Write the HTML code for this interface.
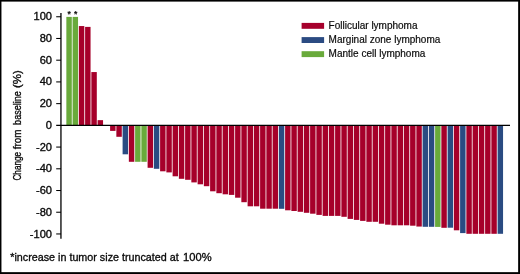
<!DOCTYPE html>
<html><head><meta charset="utf-8"><title>Figure</title>
<style>
html,body{margin:0;padding:0;background:#fff;}
body{width:520px;height:274px;overflow:hidden;position:relative;font-family:"Liberation Sans",Arial,Helvetica,sans-serif;}
svg{position:absolute;left:-6px;top:-6px;display:block;filter:blur(0.35px)}
svg text{font-family:"Liberation Sans",Arial,Helvetica,sans-serif;fill:#0a0a0a;stroke:#0a0a0a;stroke-width:0.32px;}
svg .leg text{stroke-width:0.18px;}
</style></head><body>
<svg width="532" height="286" viewBox="-6 -6 532 286">
<rect x="-6" y="-6" width="532" height="286" fill="#fff"/>
<defs><filter id="bb" x="-2%" y="-2%" width="104%" height="104%"><feGaussianBlur stdDeviation="0.32 0.1"/></filter></defs>
<g id="bars" filter="url(#bb)">
<rect x="66.35" y="16.90" width="5.45" height="108.50" fill="#69aa3b"/>
<rect x="72.60" y="16.90" width="5.45" height="108.50" fill="#69aa3b"/>
<rect x="78.85" y="26.05" width="5.45" height="99.35" fill="#a6002c"/>
<rect x="85.10" y="26.90" width="5.45" height="98.50" fill="#a6002c"/>
<rect x="91.35" y="72.05" width="5.45" height="53.35" fill="#a6002c"/>
<rect x="97.60" y="120.15" width="5.45" height="5.25" fill="#a6002c"/>
<rect x="110.10" y="125.40" width="5.45" height="5.50" fill="#a6002c"/>
<rect x="116.35" y="125.40" width="5.45" height="11.40" fill="#a6002c"/>
<rect x="122.60" y="125.40" width="5.45" height="28.90" fill="#2b4b82"/>
<rect x="128.85" y="125.40" width="5.45" height="36.40" fill="#a6002c"/>
<rect x="135.10" y="125.40" width="5.45" height="36.40" fill="#69aa3b"/>
<rect x="141.35" y="125.40" width="5.45" height="36.40" fill="#69aa3b"/>
<rect x="147.60" y="125.40" width="5.45" height="42.40" fill="#a6002c"/>
<rect x="153.85" y="125.40" width="5.45" height="43.40" fill="#2b4b82"/>
<rect x="160.10" y="125.40" width="5.45" height="45.90" fill="#a6002c"/>
<rect x="166.35" y="125.40" width="5.45" height="47.00" fill="#a6002c"/>
<rect x="172.60" y="125.40" width="5.45" height="50.90" fill="#a6002c"/>
<rect x="178.85" y="125.40" width="5.45" height="53.40" fill="#a6002c"/>
<rect x="185.10" y="125.40" width="5.45" height="54.40" fill="#a6002c"/>
<rect x="191.35" y="125.40" width="5.45" height="57.00" fill="#a6002c"/>
<rect x="197.60" y="125.40" width="5.45" height="58.90" fill="#a6002c"/>
<rect x="203.85" y="125.40" width="5.45" height="60.80" fill="#a6002c"/>
<rect x="210.10" y="125.40" width="5.45" height="65.90" fill="#a6002c"/>
<rect x="216.35" y="125.40" width="5.45" height="67.80" fill="#a6002c"/>
<rect x="222.60" y="125.40" width="5.45" height="68.90" fill="#a6002c"/>
<rect x="228.85" y="125.40" width="5.45" height="69.50" fill="#a6002c"/>
<rect x="235.10" y="125.40" width="5.45" height="72.30" fill="#a6002c"/>
<rect x="241.35" y="125.40" width="5.45" height="76.80" fill="#a6002c"/>
<rect x="247.60" y="125.40" width="5.45" height="80.90" fill="#a6002c"/>
<rect x="253.85" y="125.40" width="5.45" height="80.90" fill="#a6002c"/>
<rect x="260.10" y="125.40" width="5.45" height="83.30" fill="#a6002c"/>
<rect x="266.35" y="125.40" width="5.45" height="83.30" fill="#a6002c"/>
<rect x="272.60" y="125.40" width="5.45" height="83.30" fill="#a6002c"/>
<rect x="278.85" y="125.40" width="5.45" height="83.40" fill="#2b4b82"/>
<rect x="285.10" y="125.40" width="5.45" height="84.90" fill="#a6002c"/>
<rect x="291.35" y="125.40" width="5.45" height="85.60" fill="#a6002c"/>
<rect x="297.60" y="125.40" width="5.45" height="86.40" fill="#a6002c"/>
<rect x="303.85" y="125.40" width="5.45" height="87.40" fill="#a6002c"/>
<rect x="310.10" y="125.40" width="5.45" height="88.30" fill="#a6002c"/>
<rect x="316.35" y="125.40" width="5.45" height="89.50" fill="#a6002c"/>
<rect x="322.60" y="125.40" width="5.45" height="90.50" fill="#a6002c"/>
<rect x="328.85" y="125.40" width="5.45" height="90.50" fill="#a6002c"/>
<rect x="335.10" y="125.40" width="5.45" height="90.50" fill="#a6002c"/>
<rect x="341.35" y="125.40" width="5.45" height="91.40" fill="#a6002c"/>
<rect x="347.60" y="125.40" width="5.45" height="93.50" fill="#a6002c"/>
<rect x="353.85" y="125.40" width="5.45" height="94.50" fill="#a6002c"/>
<rect x="360.10" y="125.40" width="5.45" height="95.50" fill="#a6002c"/>
<rect x="366.35" y="125.40" width="5.45" height="96.40" fill="#a6002c"/>
<rect x="372.60" y="125.40" width="5.45" height="96.40" fill="#a6002c"/>
<rect x="378.85" y="125.40" width="5.45" height="98.30" fill="#a6002c"/>
<rect x="385.10" y="125.40" width="5.45" height="99.30" fill="#a6002c"/>
<rect x="391.35" y="125.40" width="5.45" height="99.90" fill="#a6002c"/>
<rect x="397.60" y="125.40" width="5.45" height="99.90" fill="#a6002c"/>
<rect x="403.85" y="125.40" width="5.45" height="99.90" fill="#a6002c"/>
<rect x="410.10" y="125.40" width="5.45" height="100.30" fill="#a6002c"/>
<rect x="416.35" y="125.40" width="5.45" height="101.15" fill="#a6002c"/>
<rect x="422.60" y="125.40" width="5.45" height="101.40" fill="#2b4b82"/>
<rect x="428.85" y="125.40" width="5.45" height="101.40" fill="#2b4b82"/>
<rect x="435.10" y="125.40" width="5.45" height="101.50" fill="#69aa3b"/>
<rect x="441.35" y="125.40" width="5.45" height="102.40" fill="#a6002c"/>
<rect x="447.60" y="125.40" width="5.45" height="102.30" fill="#2b4b82"/>
<rect x="453.85" y="125.40" width="5.45" height="104.90" fill="#a6002c"/>
<rect x="460.10" y="125.40" width="5.45" height="107.70" fill="#2b4b82"/>
<rect x="466.35" y="125.40" width="5.45" height="108.40" fill="#a6002c"/>
<rect x="472.60" y="125.40" width="5.45" height="108.40" fill="#a6002c"/>
<rect x="478.85" y="125.40" width="5.45" height="108.40" fill="#a6002c"/>
<rect x="485.10" y="125.40" width="5.45" height="108.40" fill="#a6002c"/>
<rect x="491.35" y="125.40" width="5.45" height="108.40" fill="#a6002c"/>
<rect x="497.60" y="125.40" width="5.45" height="108.40" fill="#2b4b82"/>
</g>
<g stroke="#000" stroke-width="1.3" fill="none">
<line x1="60.95" y1="12.9" x2="60.95" y2="238.7"/>
<line x1="56.2" y1="125.3" x2="510" y2="125.3"/>
<line x1="56.2" y1="16.75" x2="61" y2="16.75" stroke-width="1.05"/>
<line x1="56.2" y1="38.47" x2="61" y2="38.47" stroke-width="1.05"/>
<line x1="56.2" y1="60.19" x2="61" y2="60.19" stroke-width="1.05"/>
<line x1="56.2" y1="81.91" x2="61" y2="81.91" stroke-width="1.05"/>
<line x1="56.2" y1="103.63" x2="61" y2="103.63" stroke-width="1.05"/>
<line x1="56.2" y1="147.07" x2="61" y2="147.07" stroke-width="1.05"/>
<line x1="56.2" y1="168.79" x2="61" y2="168.79" stroke-width="1.05"/>
<line x1="56.2" y1="190.51" x2="61" y2="190.51" stroke-width="1.05"/>
<line x1="56.2" y1="212.23" x2="61" y2="212.23" stroke-width="1.05"/>
<line x1="56.2" y1="233.95" x2="61" y2="233.95" stroke-width="1.05"/>
</g>
<g font-size="10.1">
<text transform="translate(52,20.30) scale(1.1,1)" text-anchor="end">100</text>
<text transform="translate(52,42.02) scale(1.1,1)" text-anchor="end">80</text>
<text transform="translate(52,63.74) scale(1.1,1)" text-anchor="end">60</text>
<text transform="translate(52,85.46) scale(1.1,1)" text-anchor="end">40</text>
<text transform="translate(52,107.18) scale(1.1,1)" text-anchor="end">20</text>
<text transform="translate(52,128.90) scale(1.1,1)" text-anchor="end">0</text>
<text transform="translate(52,150.62) scale(1.1,1)" text-anchor="end">-20</text>
<text transform="translate(52,172.34) scale(1.1,1)" text-anchor="end">-40</text>
<text transform="translate(52,194.06) scale(1.1,1)" text-anchor="end">-60</text>
<text transform="translate(52,215.78) scale(1.1,1)" text-anchor="end">-80</text>
<text transform="translate(52,237.50) scale(1.1,1)" text-anchor="end">-100</text>
</g>
<g font-size="8.5" font-weight="bold" text-anchor="middle"><text x="69.2" y="17.3" style="stroke-width:0.1px">*</text><text x="75.55" y="17.3" style="stroke-width:0.1px">*</text></g>
<text transform="translate(21.4,180.60) rotate(-90)" font-size="11" textLength="28.80" lengthAdjust="spacingAndGlyphs" style="stroke-width:0.35px">Change</text>
<text transform="translate(21.4,149.30) rotate(-90)" font-size="11" textLength="19.60" lengthAdjust="spacingAndGlyphs" style="stroke-width:0.35px">from</text>
<text transform="translate(21.4,124.90) rotate(-90)" font-size="11" textLength="33.80" lengthAdjust="spacingAndGlyphs" style="stroke-width:0.35px">baseline</text>
<text transform="translate(21.4,88.10) rotate(-90)" font-size="11" textLength="17.80" lengthAdjust="spacingAndGlyphs" style="stroke-width:0.35px">(%)</text>
<g>
<rect x="301.6" y="22.9" width="22.5" height="5.9" fill="#a6002c"/>
<rect x="301.6" y="37.1" width="22.5" height="5.9" fill="#2b4b82"/>
<rect x="301.6" y="51.2" width="22.5" height="5.9" fill="#69aa3b"/>
</g>
<g font-size="10" class="leg">
<text x="328.6" y="28.8">Follicular lymphoma</text>
<text x="328.6" y="43.05">Marginal zone lymphoma</text>
<text x="328.6" y="57.3">Mantle cell lymphoma</text>
</g>
<g>
<text x="10.25" y="261.35" font-size="10.75">*increase in tumor size truncated at</text>
<text transform="translate(183,261.35) scale(1.04,1)" font-size="10.75">100%</text>
</g>
<g fill="#000">
<rect x="-6" y="-6" width="532" height="7.6"/>
<rect x="-6" y="-6" width="7.45" height="286"/>
<rect x="518.15" y="-6" width="8" height="286"/>
<rect x="-6" y="272.15" width="532" height="8"/>
</g>
</svg>
</body></html>
